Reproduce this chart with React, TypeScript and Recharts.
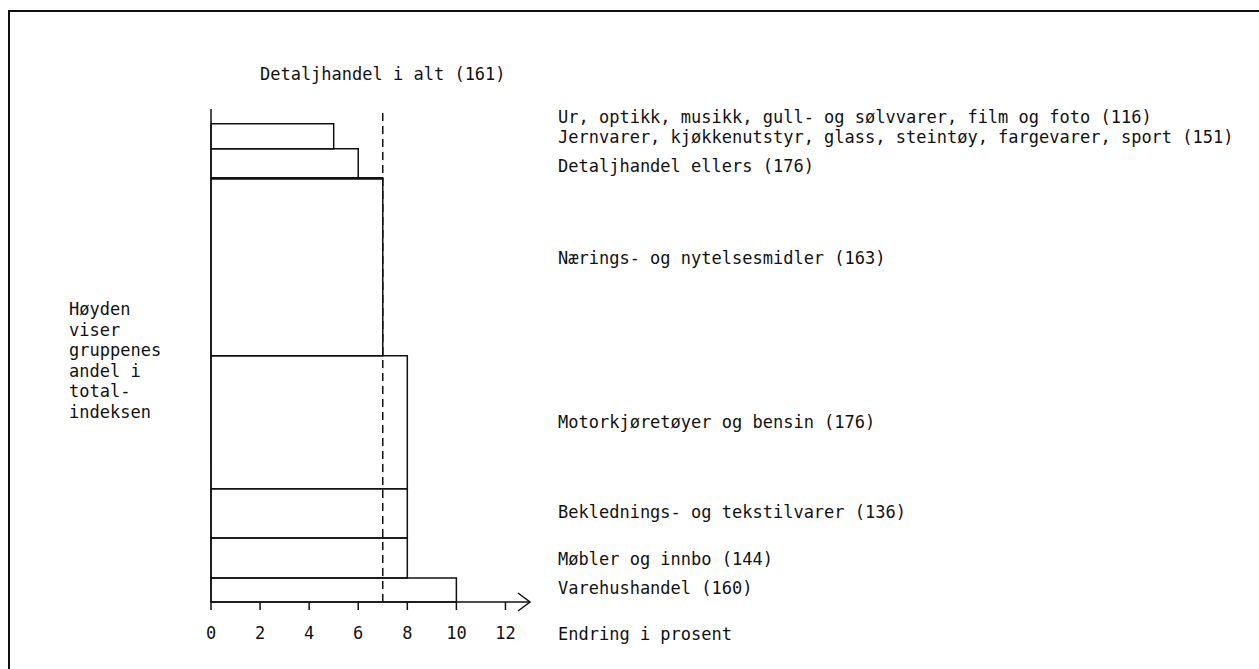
import { ComposedChart, XAxis, YAxis, Scatter, ReferenceArea, ReferenceLine } from 'recharts'

// varegrupper, prisendring i prosent og andel i totalindeksen
const groups = [
  'Ur, optikk, musikk, gull- og sølvvarer, film og foto (116)',
  'Jernvarer, kjøkkenutstyr, glass, steintøy, fargevarer, sport (151)',
  'Detaljhandel ellers (176)',
  'Nærings- og nytelsesmidler (163)',
  'Motorkjøretøyer og bensin (176)',
  'Beklednings- og tekstilvarer (136)',
  'Møbler og innbo (144)',
  'Varehushandel (160)',
]
const change = [5, 6, 7, 7, 8, 8, 8, 10]
const weight = [5.2, 6.1, 0.2, 37.0, 27.8, 10.3, 8.4, 5.0]
const xTicks = [0, 2, 4, 6, 8, 10, 12]
const totalLabel = 'Detaljhandel i alt (161)'
const totalChange = 7
const sideText = ['Høyden', 'viser', 'gruppenes', 'andel i', 'total-', 'indeksen']

// labels in the tight top group are pushed upwards
const labelNudge = [-19, -26, -12, -9, 0, -1, 1, -2]

const FONT = '"DejaVu Sans Mono", monospace'
const INK = '#111'

let acc = 0
const rows = groups.map((name, i) => {
  const start = acc
  acc += weight[i]
  return { name, x: change[i], start, end: acc, y: (start + acc) / 2, nudge: labelNudge[i] }
})

const AxisEnd = ({ viewBox }: any) => {
  const { x, y, width } = viewBox
  const ex = x + width
  return (
    <g>
      <path d={`M${ex - 12},${y - 9} L${ex},${y} L${ex - 12},${y + 9}`} fill="none" stroke={INK} strokeWidth={1.5} />
      <text x={ex + 28} y={y + 32} fill={INK} fontFamily={FONT} fontSize={17} dominantBaseline="central">
        Endring i prosent
      </text>
    </g>
  )
}

const GroupLabel = (p: any) => (
  <text x={558} y={p.cy + p.payload.nudge} fill={INK} fontFamily={FONT} fontSize={17} dominantBaseline="central">
    {p.payload.name}
  </text>
)

export default function App() {
  return (
    <div style={{ position: 'absolute', left: 0, top: 0, width: 1259, height: 669, background: '#fff', overflow: 'hidden' }}>
      <div style={{ position: 'absolute', left: 8, top: 10, width: 1300, height: 700, borderLeft: `2px solid ${INK}`, borderTop: `2.5px solid ${INK}` }} />
      <div style={{ position: 'absolute', left: 69, top: 299, fontFamily: FONT, fontSize: 17, lineHeight: '20.6px', color: INK }}>
        {sideText.map(t => <div key={t}>{t}</div>)}
      </div>
      <div style={{ position: 'absolute', left: 0, top: 0 }}>
        <ComposedChart width={1259} height={669} data={rows} margin={{ top: 109, right: 729, left: 211, bottom: 37 }}>
          <XAxis
            dataKey="x"
            type="number"
            domain={[0, 13]}
            ticks={xTicks}
            height={30}
            stroke={INK}
            axisLine={{ stroke: INK, strokeWidth: 1.5 }}
            tickLine={{ stroke: INK, strokeWidth: 1.5 }}
            tickSize={8}
            tickMargin={17}
            tick={{ fill: INK, fontFamily: FONT, fontSize: 17 }}
            label={{ content: (p: any) => <AxisEnd {...p} /> }}
          />
          <YAxis dataKey="y" type="number" domain={[-3.1, 100]} reversed hide />
          {rows.map(r => (
            <ReferenceArea
              key={r.name}
              x1={0}
              x2={r.x}
              y1={r.start}
              y2={r.end}
              fill="none"
              fillOpacity={0}
              stroke={INK}
              strokeWidth={1.5}
              ifOverflow="visible"
            />
          ))}
          <ReferenceLine x={0} stroke={INK} strokeWidth={1.5} />
          <ReferenceLine
            x={totalChange}
            stroke={INK}
            strokeWidth={1.5}
            strokeDasharray="8 5"
            label={{
              content: (p: any) => (
                <text x={p.viewBox.x} y={p.viewBox.y - 35} fill={INK} fontFamily={FONT} fontSize={17} textAnchor="middle" dominantBaseline="central">
                  {totalLabel}
                </text>
              ),
            }}
          />
          <Scatter data={rows} dataKey="y" shape={GroupLabel} isAnimationActive={false} legendType="none" />
        </ComposedChart>
      </div>
    </div>
  )
}
